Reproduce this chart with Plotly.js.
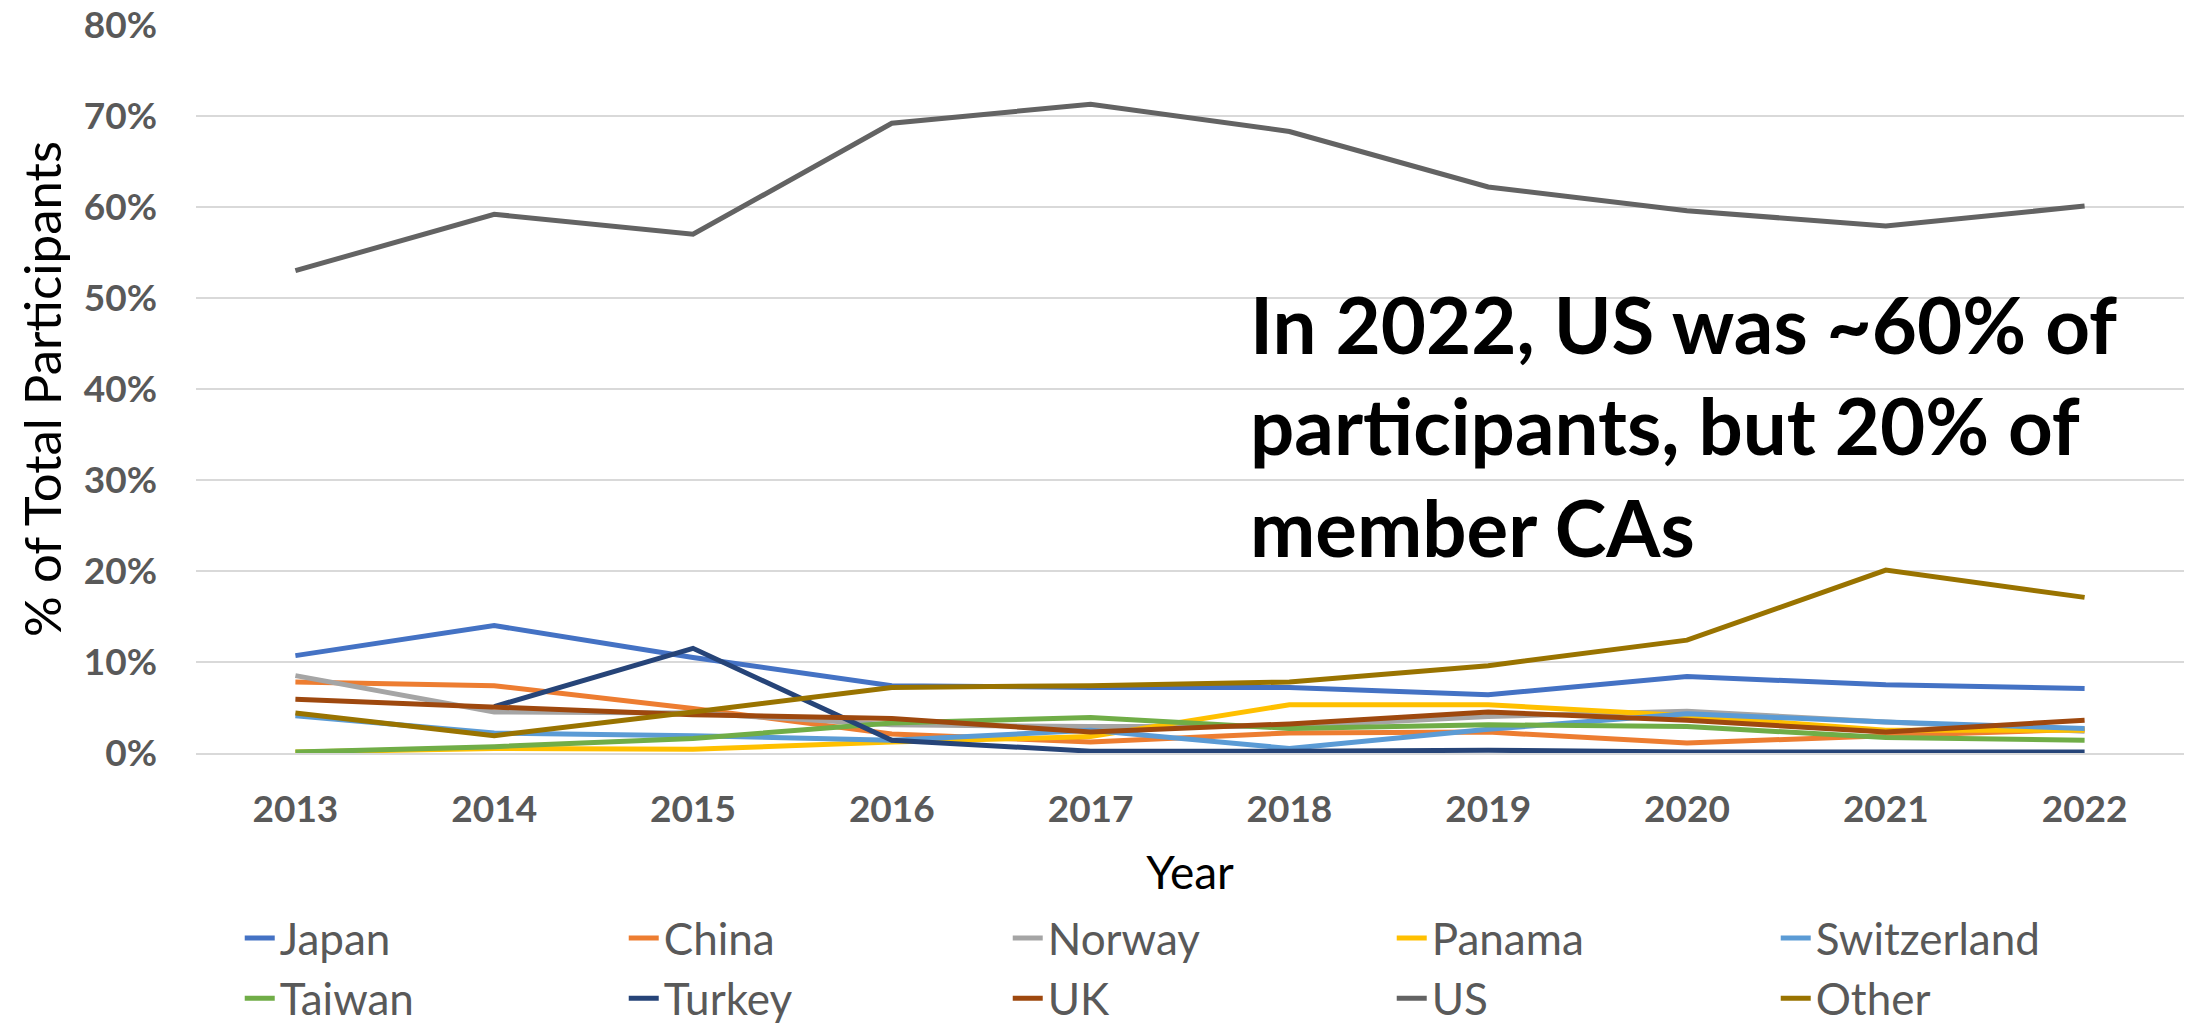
<!DOCTYPE html>
<html>
<head>
<meta charset="utf-8">
<script src="https://cdn.plot.ly/plotly-3.0.1.min.js"></script>
<style>
  html, body { margin: 0; padding: 0; background: #ffffff; }
  #chart { width: 2198px; height: 1023px; }
</style>
</head>
<body>
<div id="chart"></div>
<script>
// ---- data (percent of total participants) ----
const years = [2013, 2014, 2015, 2016, 2017, 2018, 2019, 2020, 2021, 2022];
const seriesNames = ["Japan", "China", "Norway", "Panama", "Switzerland", "Taiwan", "Turkey", "UK", "US", "Other"];
const japan       = [10.7, 14.0, 10.5, 7.4, 7.2, 7.2, 6.4, 8.4, 7.5, 7.1];
const china       = [7.8, 7.4, 4.9, 2.1, 1.2, 2.2, 2.3, 1.1, 1.9, 2.6];
const norway      = [8.5, 4.5, 4.4, 3.1, 2.9, 2.9, 4.0, 4.6, 3.4, 2.4];
const panama      = [0.1, 0.5, 0.4, 1.2, 1.8, 5.3, 5.3, 4.1, 2.5, 2.5];
const switzerland = [4.1, 2.2, 1.9, 1.4, 2.5, 0.5, 2.6, 4.3, 3.4, 2.7];
const taiwan      = [0.1, 0.7, 1.6, 3.3, 3.9, 2.7, 3.1, 2.9, 1.7, 1.4];
const turkey      = [null, 5.1, 11.5, 1.4, 0.2, 0.2, 0.3, 0.1, 0.1, 0.1];
const uk          = [5.9, 5.0, 4.2, 3.8, 2.3, 3.2, 4.5, 3.6, 2.3, 3.6];
const us          = [53.0, 59.2, 57.0, 69.2, 71.3, 68.3, 62.2, 59.6, 57.9, 60.1];
const other       = [4.4, 1.9, 4.5, 7.2, 7.4, 7.8, 9.6, 12.4, 20.1, 17.1];
const yTicks = [0, 10, 20, 30, 40, 50, 60, 70, 80];
const yTickLabels = ["0%", "10%", "20%", "30%", "40%", "50%", "60%", "70%", "80%"];
const annotationText = "In 2022, US was ~60% of<br>participants, but 20% of<br>member CAs";

// ---- styling ----
const seriesValues = [japan, china, norway, panama, switzerland, taiwan, turkey, uk, us, other];
const colors = ["#4472C4", "#ED7D31", "#A5A5A5", "#FFC000", "#5B9BD5",
                "#70AD47", "#264478", "#9E480E", "#636363", "#997300"];

const traces = seriesNames.map((name, i) => ({
  type: "scatter",
  mode: "lines",
  name: name,
  x: years,
  y: seriesValues[i],
  line: { color: colors[i], width: 5, shape: "linear" },
  connectgaps: false,
  hoverinfo: "skip"
}));

const layout = {
  width: 2198,
  height: 1023,
  paper_bgcolor: "#ffffff",
  plot_bgcolor: "#ffffff",
  margin: { l: 196, r: 14, t: 25, b: 270, pad: 0, autoexpand: false },
  showlegend: true,
  font: { family: "Lato, 'Open Sans', sans-serif", color: "#595959" },
  xaxis: {
    range: [2012.5, 2022.5],
    tickmode: "array",
    tickvals: years,
    ticktext: years.map(String),
    ticks: "",
    showgrid: false,
    zeroline: false,
    showline: true,
    linecolor: "#D9D9D9",
    linewidth: 2,
    ticklabelstandoff: 23,
    tickfont: { family: "Lato, sans-serif", size: 37, color: "#595959", weight: "bold" },
    title: {
      text: "Year",
      font: { family: "Lato, sans-serif", size: 46, color: "#000000" },
      standoff: 27
    },
    automargin: false,
    fixedrange: true
  },
  yaxis: {
    range: [0, 80],
    tickmode: "array",
    tickvals: yTicks,
    ticktext: yTickLabels,
    ticks: "",
    showgrid: true,
    gridcolor: "#D9D9D9",
    gridwidth: 2,
    zeroline: false,
    showline: false,
    ticklabelstandoff: 38,
    tickfont: { family: "Lato, sans-serif", size: 37, color: "#595959", weight: "bold" },
    title: {
      text: "% of Total Participants",
      font: { family: "Lato, sans-serif", size: 51, color: "#000000" },
      standoff: 5
    },
    automargin: false,
    fixedrange: true
  },
  legend: {
    orientation: "h",
    x: 0.022,
    xanchor: "left",
    y: -0.206,
    yanchor: "top",
    entrywidth: 339,
    entrywidthmode: "pixels",
    font: { family: "Lato, sans-serif", size: 44, color: "#595959" },
    bgcolor: "rgba(0,0,0,0)",
    borderwidth: 0,
    traceorder: "normal",
    itemclick: false,
    itemdoubleclick: false
  },
  annotations: [{
    xref: "paper",
    yref: "y",
    x: (1248 - 196) / 1988,
    xanchor: "left",
    y: 52.5,
    yanchor: "top",
    align: "left",
    showarrow: false,
    text: annotationText,
    font: { family: "Lato, sans-serif", size: 78, color: "#000000", weight: "bold" }
  }]
};

Plotly.newPlot("chart", traces, layout, { displayModeBar: false, staticPlot: true });
</script>
</body>
</html>
